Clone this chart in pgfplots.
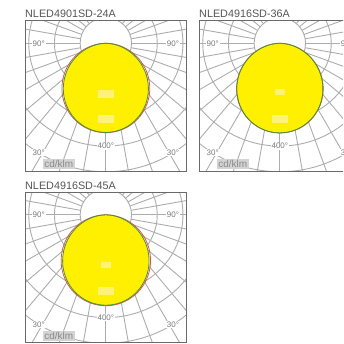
\documentclass[border=0pt]{standalone}
\usepackage{fontspec}
\setmainfont{Liberation Sans}
\usepackage{pgfplots}
\usepackage{pgfplotstable}
\pgfplotsset{compat=1.18}
\definecolor{gridc}{HTML}{ADADAD}
\definecolor{framec}{HTML}{6A6A6A}
\definecolor{lblc}{HTML}{7A7A7A}
\definecolor{yel}{HTML}{FFF000}
\definecolor{lyel}{HTML}{FFF27A}
\definecolor{redc}{HTML}{E8504A}
\definecolor{grnc}{HTML}{3C963C}
\definecolor{titc}{HTML}{555555}
\definecolor{cdbg}{HTML}{D4D4D4}
\definecolor{cdtx}{HTML}{8A8A8A}

% t = angle from nadir (deg), g = green C-plane, r = red C-plane (cd/klm)
\pgfplotstableread{
t g r
-90 0 0
-85 21.5 26.9
-80 47.2 55.4
-75 74.3 84.2
-70 102.1 112.8
-65 130.0 140.9
-60 157.5 168.1
-55 184.1 194.1
-50 209.7 218.8
-45 233.8 241.8
-40 256.1 263.1
-35 276.4 282.2
-30 294.5 299.2
-25 310.2 313.8
-20 323.2 326.0
-15 333.6 335.6
-10 341.0 342.5
-5 345.5 346.6
0 347 348
5 345.5 346.6
10 341.0 342.5
15 333.6 335.6
20 323.2 326.0
25 310.2 313.8
30 294.5 299.2
35 276.4 282.2
40 256.1 263.1
45 233.8 241.8
50 209.7 218.8
55 184.1 194.1
60 157.5 168.1
65 130.0 140.9
70 102.1 112.8
75 74.3 84.2
80 47.2 55.4
85 21.5 26.9
90 0 0
}\tabA

\pgfplotstableread{
t g r
-90 0 0
-85 22.7 23.6
-80 49.1 50.5
-75 76.8 78.4
-70 104.9 106.5
-65 133.0 134.6
-60 160.6 162.2
-55 187.3 188.8
-50 212.7 214.1
-45 236.7 238.0
-40 258.9 260.2
-35 279.1 280.3
-30 297.1 298.0
-25 312.6 313.3
-20 325.5 326.1
-15 335.7 336.1
-10 343.1 343.3
-5 347.5 347.6
0 349 349
5 347.5 347.6
10 343.1 343.3
15 335.7 336.1
20 325.5 326.1
25 312.6 313.3
30 297.1 298.0
35 279.1 280.3
40 258.9 260.2
45 236.7 238.0
50 212.7 214.1
55 187.3 188.8
60 160.6 162.2
65 133.0 134.6
70 104.9 106.5
75 76.8 78.4
80 49.1 50.5
85 22.7 23.6
90 0 0
}\tabB

\pgfplotstableread{
t g r
-90 0 0
-85 22.4 27.0
-80 48.7 56.6
-75 76.4 86.3
-70 104.6 115.6
-65 132.8 144.1
-60 160.6 171.6
-55 187.6 197.8
-50 213.3 222.7
-45 237.6 246.0
-40 260.2 267.6
-35 280.7 287.0
-30 299.0 304.4
-25 314.8 319.3
-20 328.0 331.7
-15 338.4 341.4
-10 346.0 348.4
-5 350.5 352.6
0 352 354
5 350.5 352.6
10 346.0 348.4
15 338.4 341.4
20 328.0 331.7
25 314.8 319.3
30 299.0 304.4
35 280.7 287.0
40 260.2 267.6
45 237.6 246.0
50 213.3 222.7
55 187.6 197.8
60 160.6 171.6
65 132.8 144.1
70 104.6 115.6
75 76.4 86.3
80 48.7 56.6
85 22.4 27.0
90 0 0
}\tabC

\pgfplotsset{photom/.style={
  scale only axis, width=161.7pt, height=150.5pt,
  xmin=-314.6, xmax=314.6, ymin=-497, ymax=88.6,
  axis line style={framec, line width=0.9pt},
  ticks=none, axis on top, clip=true,
  clip bounding box=upper bound}}

\newcommand{\polgrid}{%
  \pgfplotsinvokeforeach{25.7pt,51.4pt,77.1pt,102.8pt,128.5pt,154.2pt}{%
    \draw[gridc, line width=0.9pt] (axis cs:0,0) circle[radius=##1];}%
  \pgfplotsinvokeforeach{0,10,...,350}{%
    \draw[gridc, line width=0.9pt] (axis cs:{100*cos(##1)},{100*sin(##1)}) -- (axis cs:{800*cos(##1)},{800*sin(##1)});}%
  \node[fill=white, text=lblc, font=\fontsize{8}{8}\selectfont, inner sep=0.7pt] at (axis cs:-261,0) {90°};
  \node[fill=white, text=lblc, font=\fontsize{8}{8}\selectfont, inner sep=0.7pt] at (axis cs:261,0) {90°};
  \node[fill=white, text=lblc, font=\fontsize{8}{8}\selectfont, inner sep=0.7pt] at (axis cs:-261,-426) {30°};
  \node[fill=white, text=lblc, font=\fontsize{8}{8}\selectfont, inner sep=0.7pt] at (axis cs:261,-426) {30°};
  \node[fill=white, text=lblc, font=\fontsize{8}{8}\selectfont, inner sep=0.7pt] at (axis cs:0,-400) {400°};
}
\newcommand{\cdlabel}{%
  \node[fill=cdbg, text=cdtx, font=\fontsize{10}{10}\selectfont, inner xsep=1.5pt, inner ysep=0pt, minimum height=10pt] at (axis cs:-183,-471) {cd/klm};}
\newcommand{\curves}[1]{%
  \addplot[data cs=polar, draw=none, fill=yel, smooth] table[x expr=\thisrow{t}-90, y=g] {#1};
  \addplot[data cs=polar, redc, line width=0.8pt, smooth] table[x expr=\thisrow{t}-90, y=r] {#1};
  \addplot[data cs=polar, grnc, line width=0.8pt, smooth] table[x expr=\thisrow{t}-90, y=g] {#1};}

\begin{document}
\begin{tikzpicture}
\useasboundingbox (0pt,0pt) rectangle (343pt,-344pt);
\fill[white] (0pt,0pt) rectangle (343pt,-344pt);
\clip (0pt,0pt) rectangle (343pt,-344pt);

\node[anchor=base west, text=titc, font=\fontsize{10.8}{10.8}\selectfont, inner sep=0pt] at (25pt,-18pt) {NLED4901SD-24A};
\node[anchor=base west, text=titc, font=\fontsize{10.8}{10.8}\selectfont, inner sep=0pt] at (199pt,-18pt) {NLED4916SD-36A};
\node[anchor=base west, text=titc, font=\fontsize{10.8}{10.8}\selectfont, inner sep=0pt] at (25pt,-189.5pt) {NLED4916SD-45A};

\begin{axis}[photom, at={(25pt,-20.5pt)}, anchor=north west]
\polgrid
\curves{\tabA}
\node[fill=lyel, inner sep=0pt, minimum width=16.5pt, minimum height=8pt] at (axis cs:0,-198) {};
\node[fill=lyel, inner sep=0pt, minimum width=16.5pt, minimum height=8pt] at (axis cs:0,-296) {};
\cdlabel
\end{axis}

% panel 2 runs off the right edge of the picture: only 144pt of it is shown
\begin{axis}[photom, width=144pt, xmax=245.7, hide axis, at={(199pt,-20.5pt)}, anchor=north west]
\polgrid
\curves{\tabB}
\node[fill=lyel, inner sep=0pt, minimum width=10pt, minimum height=6pt] at (axis cs:0,-190) {};
\node[fill=lyel, inner sep=0pt, minimum width=16.5pt, minimum height=8pt] at (axis cs:0,-296) {};
\cdlabel
\coordinate (B1) at (rel axis cs:1.1,1);
\coordinate (B2) at (rel axis cs:0,1);
\coordinate (B3) at (rel axis cs:0,0);
\coordinate (B4) at (rel axis cs:1.1,0);
\end{axis}
\draw[framec, line width=0.9pt] (B1) -- (B2) -- (B3) -- (B4);

\begin{axis}[photom, at={(25pt,-192pt)}, anchor=north west]
\polgrid
\curves{\tabC}
\node[fill=lyel, inner sep=0pt, minimum width=10pt, minimum height=6pt] at (axis cs:0,-196) {};
\node[fill=lyel, inner sep=0pt, minimum width=16.5pt, minimum height=8pt] at (axis cs:0,-296) {};
\cdlabel
\end{axis}
\end{tikzpicture}
\end{document}
